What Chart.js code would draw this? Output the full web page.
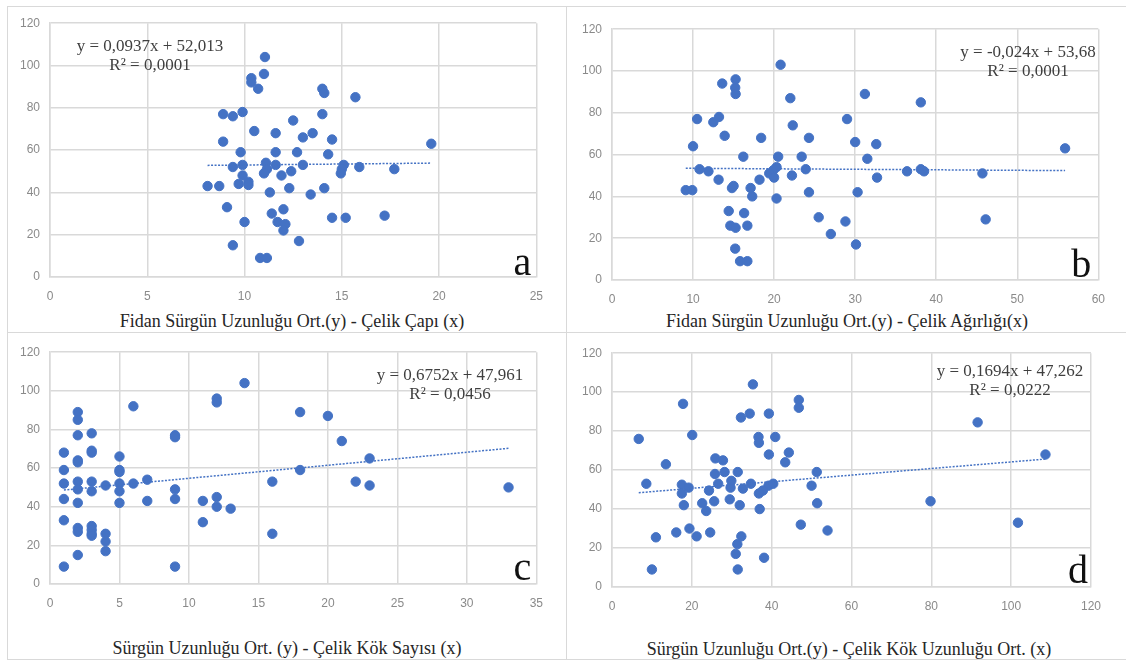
<!DOCTYPE html>
<html>
<head>
<meta charset="utf-8">
<script src="https://cdn.jsdelivr.net/npm/chart.js@4.4.0/dist/chart.umd.min.js"></script>
<style>
  body { margin: 0; background: #fff; width: 1126px; height: 660px; overflow: hidden; position: relative; font-family: "Liberation Serif", serif; }
  .box { position: absolute; border: 1px solid #d9d9d9; box-sizing: border-box; }
  canvas { position: absolute; }
  .ttl { position: absolute; width: 560px; text-align: center; font-size: 18px; line-height: 20px; color: #262626; white-space: nowrap; }
</style>
</head>
<body>
<div class="box" style="left:7px;top:6px;width:560px;height:327px"></div>
<div class="box" style="left:566px;top:6px;width:580px;height:327px"></div>
<div class="box" style="left:7px;top:332px;width:560px;height:328px"></div>
<div class="box" style="left:566px;top:332px;width:580px;height:328px"></div>

<canvas id="chartA" width="550" height="296" style="left:5px;top:6px"></canvas>
<canvas id="chartB" width="550" height="293" style="left:567px;top:12px"></canvas>
<canvas id="chartC" width="550" height="274" style="left:5px;top:335px"></canvas>
<canvas id="chartD" width="546" height="276" style="left:567px;top:336px"></canvas>

<div class="ttl" style="left:12px;top:311px">Fidan Sürgün Uzunluğu Ort.(y) - Çelik Çapı (x)</div>
<div class="ttl" style="left:567px;top:311px">Fidan Sürgün Uzunluğu Ort.(y) - Çelik Ağırlığı(x)</div>
<div class="ttl" style="left:7px;top:638px">Sürgün Uzunluğu Ort. (y) - Çelik Kök Sayısı (x)</div>
<div class="ttl" style="left:569px;top:639px">Sürgün Uzunluğu Ort.(y) - Çelik Kök Uzunluğu Ort. (x)</div>

<script>
// y axis is the same on all four panels
var yTicks = [0, 20, 40, 60, 80, 100, 120];

// a - çelik çapı
var aTicks = [0, 5, 10, 15, 20, 25];
var aX = [11.05,11.0,10.35,10.35,10.7,14.0,14.1,15.7,8.9,9.4,9.9,14.0,12.5,10.5,11.6,13.5,13.0,14.5,8.9,9.8,11.6,12.7,14.3,9.4,9.9,11.1,11.15,11.0,11.6,13.0,15.1,15.0,14.95,15.9,9.9,9.7,10.2,10.2,11.9,12.4,8.1,8.7,12.3,14.1,11.3,13.4,9.1,12.0,11.4,10.0,11.7,12.1,12.0,14.5,15.2,17.2,12.8,9.4,10.8,11.15,19.6,17.7];
var aY = [104,96,94,92,89,89,87,85,77,76,78,77,74,69,68,68,66,65,64,59,59,59,58,52,53,54,51,49,53,53,53,51,49,52,48,44,45,43.5,48,50,43,43,42,42,40,39,33,32,30,26,26,25,22,28,28,29,17,15,9,9,63,51];
var aTrend = [0.0937, 52.013];
var aEq = ['y = 0,0937x + 52,013', 'R² = 0,0001'];

// b - çelik ağırlığı
var bTicks = [0, 10, 20, 30, 40, 50, 60];
var bX = [20.8,15.25,13.6,15.2,15.25,22.0,31.2,10.5,12.5,13.2,22.3,29.0,13.9,18.4,24.3,10.0,30.0,32.6,16.2,20.5,23.4,31.5,10.8,11.9,20.3,19.9,19.4,20.0,23.9,22.2,32.7,13.15,18.2,14.8,15.0,17.1,17.3,20.3,24.3,30.3,9.1,9.9,14.4,16.3,14.6,15.25,16.7,25.5,28.8,27.0,30.1,15.2,15.8,16.7,38.1,55.9,36.4,38.1,38.5,45.7,46.1];
var bY = [103,96,94,92,89,87,89,77,75.5,78,74,77,69,68,68,64,66,65,59,59,59,58,53,52,54,52.5,51,49,53,50,49,48,48,44,45,44,40,39,42,42,43,43,33,32,26,25,26,30,28,22,17,15,9,9,85,63,52,53,52,51,29];
var bTrend = [-0.024, 53.68];
var bEq = ['y = -0,024x + 53,68', 'R² = 0,0001'];

// c - kök sayısı
var cTicks = [0, 5, 10, 15, 20, 25, 30, 35];
var cX = [1,1,1,1,1,1,2,2,2,2,2,2,2,2,2,2,2,3,3,3,3,3,3,3,3,3,4,4,4,4,5,5,5,5,5,5,6,6,7,7,9,9,9,9,9,11,11,12,12,12,12,13,14,16,16,18,18,20,21,22,23,23,33];
var cY = [68,59,52,44,33,9,89,85,77,64,63,53,49,42,29,27,15,78,69,68,53,48,30,28,26,25,51,26,22,17,66,59,58,52,48,42,92,52,54,43,77,76,49,44,9,43,32,96,94,45,40,39,104,53,26,89,59,87,74,53,65,51,50];
var cTrend = [0.6752, 47.961];
var cEq = ['y = 0,6752x + 47,961', 'R² = 0,0456'];

// d - kök uzunluğu
var dTicks = [0, 20, 40, 60, 80, 100, 120];
var dX = [35.3,46.8,46.8,17.8,32.3,34.5,39.3,6.7,20.1,36.7,36.8,40.9,39.3,44.3,43.4,13.5,25.9,27.8,25.8,28.2,31.5,51.3,8.6,17.5,19.2,17.5,26.6,29.9,29.7,34.8,32.8,24.3,39.2,40.4,37.8,36.8,50.0,18.0,22.6,23.6,25.6,29.5,32.0,37.0,51.4,47.3,54.0,19.4,16.1,21.2,24.6,11.0,32.4,31.4,31.0,38.1,10.0,31.5,91.6,108.6,79.8,101.7];
var dY = [104,96,92,94,87,89,89,76,78,77,74,77,68,69,64,63,66,65,58,59,59,59,53,52.5,51,48,53,54.5,51,53,50.5,49.5,52,53,49.5,48,52,42,43,39,44,45,42,40,43,32,29,30,28,26,28,25.5,26,22,17,15,9,9,84.5,68,44,33];
var dTrend = [0.1694, 47.262];
var dEq = ['y = 0,1694x + 47,262', 'R² = 0,0222'];

var blue = '#4472C4';
var gridColor = '#d9d9d9';
var tickFont = { family: 'Liberation Sans', size: 12 };

// equation and panel letter, drawn inside the plot area
var notes = {
  id: 'notes',
  afterDatasetsDraw: function (chart, args, o) {
    var c = chart.ctx, a = chart.chartArea;
    c.save();
    c.fillStyle = '#3f3f3f';
    c.font = '17px "Liberation Serif"';
    c.textAlign = 'center';
    c.textBaseline = 'alphabetic';
    c.fillText(o.eq[0], a.left + o.eqX, a.top + o.eqY);
    c.fillText(o.eq[1], a.left + o.eqX, a.top + o.eqY + 19);
    c.fillStyle = '#111';
    c.font = '40px "Liberation Serif"';
    c.textAlign = 'right';
    c.fillText(o.letter, a.right - o.lx, a.bottom - o.ly);
    c.restore();
  }
};

function BuildPanel(id, xs, ys, ticks, trend, eq, letter, pos) {
  var pts = xs.map(function (x, i) { return { x: x, y: ys[i] }; });
  var x0 = Math.min.apply(null, xs), x1 = Math.max.apply(null, xs);
  var line = [
    { x: x0, y: trend[0] * x0 + trend[1] },
    { x: x1, y: trend[0] * x1 + trend[1] }
  ];
  return new Chart(document.getElementById(id), {
    type: 'scatter',
    data: {
      datasets: [{
        data: line,
        showLine: true,
        borderColor: blue,
        borderWidth: 1.5,
        borderDash: [2, 1.5],
        pointRadius: 0,
        order: 0
      }, {
        data: pts,
        backgroundColor: blue,
        borderColor: blue,
        pointRadius: 4.7,
        pointHoverRadius: 4.7,
        order: 1
      }]
    },
    options: {
      responsive: false,
      animation: false,
      devicePixelRatio: 1,
      layout: { padding: { top: 10, right: 10, left: 0, bottom: 0 } },
      plugins: {
        legend: { display: false },
        tooltip: { enabled: false },
        notes: { eq: eq, letter: letter, eqX: pos[0], eqY: pos[1], lx: pos[2], ly: pos[3] }
      },
      scales: {
        x: {
          type: 'linear',
          min: ticks[0],
          max: ticks[ticks.length - 1],
          afterBuildTicks: function (s) { s.ticks = ticks.map(function (v) { return { value: v }; }); },
          afterFit: function (s) { s.height = 25; },
          ticks: { color: '#8a8a8a', font: tickFont, padding: 12, maxRotation: 0 },
          grid: { color: gridColor, lineWidth: 1.5, drawTicks: false },
          border: { color: gridColor, width: 1.5 }
        },
        y: {
          min: 0,
          max: 120,
          afterBuildTicks: function (s) { s.ticks = yTicks.map(function (v) { return { value: v }; }); },
          afterFit: function (s) { s.width = 45; },
          ticks: { color: '#8a8a8a', font: tickFont, padding: 10 },
          grid: { color: gridColor, lineWidth: 1.5, drawTicks: false },
          border: { color: gridColor, width: 1.5 }
        }
      }
    },
    plugins: [notes]
  });
}

BuildPanel('chartA', aX, aY, aTicks, aTrend, aEq, 'a', [100, 28, 5, 2]);
BuildPanel('chartB', bX, bY, bTicks, bTrend, bEq, 'b', [416, 28, 7, 3]);
BuildPanel('chartC', cX, cY, cTicks, cTrend, cEq, 'c', [400, 28, 5, 4]);
BuildPanel('chartD', dX, dY, dTicks, dTrend, dEq, 'd', [398, 23, 3, 4]);
</script>
</body>
</html>
